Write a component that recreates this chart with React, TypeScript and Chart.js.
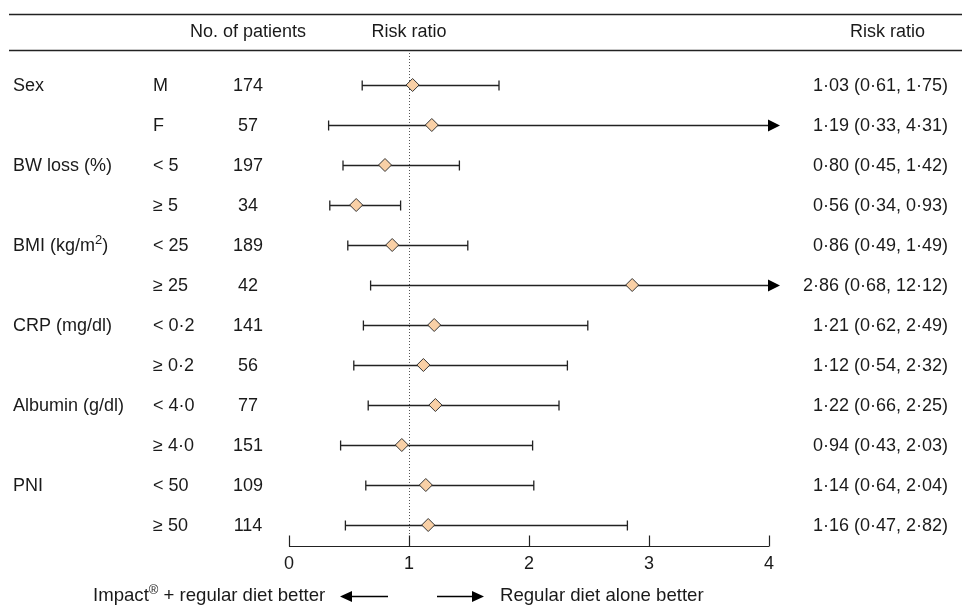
import React, { useEffect, useRef } from 'react';
import { Chart, registerables } from 'chart.js';

Chart.register(...registerables);

// ---------- data ----------
const categories = ['Sex', '', 'BW loss (%)', '', 'BMI (kg/m²)', '', 'CRP (mg/dl)', '', 'Albumin (g/dl)', '', 'PNI', ''];
const subgroups = ['M', 'F', '< 5', '≥ 5', '< 25', '≥ 25', '< 0·2', '≥ 0·2', '< 4·0', '≥ 4·0', '< 50', '≥ 50'];
const patients = [174, 57, 197, 34, 189, 42, 141, 56, 77, 151, 109, 114];
const riskRatio = [1.03, 1.19, 0.8, 0.56, 0.86, 2.86, 1.21, 1.12, 1.22, 0.94, 1.14, 1.16];
const lowerCI = [0.61, 0.33, 0.45, 0.34, 0.49, 0.68, 0.62, 0.54, 0.66, 0.43, 0.64, 0.47];
const upperCI = [1.75, 4.31, 1.42, 0.93, 1.49, 12.12, 2.49, 2.32, 2.25, 2.03, 2.04, 2.82];
const xTicks = [0, 1, 2, 3, 4];
const headerPatients = 'No. of patients';
const headerRisk = 'Risk ratio';
const legendLeft = 'Impact® + regular diet better';
const legendRight = 'Regular diet alone better';
const referenceValue = 1;

const FONT = '"Liberation Sans", Arial, Helvetica, sans-serif';
const FS = 18;
const TEXT = '#1a1a1a';
const LINE = '#222222';
const DIAMOND = '#F9D0A6';

const fmt = (v: number) => v.toFixed(2).replace('.', '·');

function drawRich(
  ctx: CanvasRenderingContext2D,
  text: string,
  x: number,
  y: number,
  align: 'left' | 'right' | 'center',
  fs: number = FS
) {
  // draws text with ² and ® as superscripts
  const parts: { t: string; sup: boolean }[] = [];
  let buf = '';
  for (const ch of text) {
    if (ch === '²' || ch === '®') {
      if (buf) parts.push({ t: buf, sup: false });
      buf = '';
      parts.push({ t: ch === '²' ? '2' : '®', sup: true });
    } else buf += ch;
  }
  if (buf) parts.push({ t: buf, sup: false });
  const normal = `${fs}px ${FONT}`;
  const small = `${Math.round(fs * 0.72)}px ${FONT}`;
  let total = 0;
  const widths = parts.map((p) => {
    ctx.font = p.sup ? small : normal;
    const w = ctx.measureText(p.t).width;
    total += w;
    return w;
  });
  let cx = align === 'left' ? x : align === 'right' ? x - total : x - total / 2;
  ctx.textAlign = 'left';
  ctx.textBaseline = 'middle';
  parts.forEach((p, i) => {
    ctx.font = p.sup ? small : normal;
    ctx.fillText(p.t, cx, p.sup ? y - 6 : y);
    cx += widths[i];
  });
}

const forestPlugin = {
  id: 'forest',
  beforeDatasetsDraw(chart: any) {
    const ctx: CanvasRenderingContext2D = chart.ctx;
    const xs = chart.scales.x;
    const ys = chart.scales.y;
    const area = chart.chartArea;
    ctx.save();
    // dotted reference line
    const rx = Math.round(xs.getPixelForValue(referenceValue)) + 0.5;
    ctx.strokeStyle = '#555';
    ctx.lineWidth = 1;
    ctx.setLineDash([1, 2]);
    ctx.beginPath();
    ctx.moveTo(rx, area.top);
    ctx.lineTo(rx, area.bottom);
    ctx.stroke();
    ctx.setLineDash([]);

    // CI whiskers
    ctx.strokeStyle = LINE;
    ctx.fillStyle = '#000';
    ctx.lineWidth = 1.3;
    const xmax = xs.max;
    riskRatio.forEach((_, i) => {
      const y = Math.round(ys.getPixelForValue(i)) + 0.5;
      const x0 = xs.getPixelForValue(lowerCI[i]);
      const clipped = upperCI[i] > xmax;
      const x1 = xs.getPixelForValue(Math.min(upperCI[i], xmax));
      ctx.beginPath();
      ctx.moveTo(x0, y);
      ctx.lineTo(x1, y);
      ctx.moveTo(x0, y - 5);
      ctx.lineTo(x0, y + 5);
      if (!clipped) {
        ctx.moveTo(x1, y - 5);
        ctx.lineTo(x1, y + 5);
      }
      ctx.stroke();
      if (clipped) {
        ctx.beginPath();
        ctx.moveTo(x1 - 1, y - 6);
        ctx.lineTo(x1 + 11, y);
        ctx.lineTo(x1 - 1, y + 6);
        ctx.closePath();
        ctx.fill();
      }
    });
    ctx.restore();
  },
  afterDraw(chart: any) {
    const ctx: CanvasRenderingContext2D = chart.ctx;
    const xs = chart.scales.x;
    const ys = chart.scales.y;
    const area = chart.chartArea;
    const W = chart.width;
    ctx.save();
    // header rules
    ctx.strokeStyle = LINE;
    ctx.lineWidth = 1.3;
    ctx.beginPath();
    ctx.moveTo(9, 14.5);
    ctx.lineTo(W, 14.5);
    ctx.moveTo(9, area.top + 0.5);
    ctx.lineTo(W, area.top + 0.5);
    ctx.stroke();

    ctx.fillStyle = TEXT;
    const headerY = 32;
    drawRich(ctx, headerPatients, 248, headerY, 'center');
    drawRich(ctx, headerRisk, xs.getPixelForValue(referenceValue), headerY, 'center');
    drawRich(ctx, headerRisk, 925, headerY, 'right');

    // rows
    riskRatio.forEach((rr, i) => {
      const y = ys.getPixelForValue(i) + 1;
      if (categories[i]) drawRich(ctx, categories[i], 13, y, 'left');
      drawRich(ctx, subgroups[i], 153, y, 'left');
      drawRich(ctx, String(patients[i]), 248, y, 'center');
      drawRich(ctx, `${fmt(rr)} (${fmt(lowerCI[i])}, ${fmt(upperCI[i])})`, 948, y, 'right');
    });

    // axis bracket
    const ay = Math.round(area.bottom) + 0.5;
    ctx.strokeStyle = LINE;
    ctx.lineWidth = 1.2;
    ctx.beginPath();
    ctx.moveTo(xs.getPixelForValue(xTicks[0]), ay);
    ctx.lineTo(xs.getPixelForValue(xTicks[xTicks.length - 1]), ay);
    xTicks.forEach((t) => {
      const tx = Math.round(xs.getPixelForValue(t)) + 0.5;
      ctx.moveTo(tx, ay);
      ctx.lineTo(tx, ay - 11);
    });
    ctx.stroke();
    xTicks.forEach((t) => {
      drawRich(ctx, String(t), xs.getPixelForValue(t), ay + 18, 'center');
    });

    // legend arrows
    const ly = 596;
    drawRich(ctx, legendLeft, 93, ly, 'left', 18.6);
    drawRich(ctx, legendRight, 500, ly, 'left', 18.6);
    ctx.fillStyle = '#000';
    ctx.strokeStyle = '#000';
    ctx.lineWidth = 1.5;
    const lyy = Math.round(ly) + 0.5;
    // left arrow
    ctx.beginPath();
    ctx.moveTo(350, lyy);
    ctx.lineTo(388, lyy);
    ctx.stroke();
    ctx.beginPath();
    ctx.moveTo(340, lyy);
    ctx.lineTo(352, lyy - 5.5);
    ctx.lineTo(352, lyy + 5.5);
    ctx.closePath();
    ctx.fill();
    // right arrow
    ctx.beginPath();
    ctx.moveTo(437, lyy);
    ctx.lineTo(474, lyy);
    ctx.stroke();
    ctx.beginPath();
    ctx.moveTo(484, lyy);
    ctx.lineTo(472, lyy - 5.5);
    ctx.lineTo(472, lyy + 5.5);
    ctx.closePath();
    ctx.fill();
    ctx.restore();
  },
};

export default function App() {
  const ref = useRef<HTMLCanvasElement | null>(null);
  useEffect(() => {
    if (!ref.current) return;
    const chart = new Chart(ref.current, {
      type: 'scatter',
      data: {
        datasets: [
          {
            label: 'Risk ratio',
            data: riskRatio.map((v, i) => ({ x: v, y: i })),
            pointStyle: 'rectRot',
            pointRadius: 6.5,
            pointHoverRadius: 6.5,
            backgroundColor: DIAMOND,
            borderColor: '#333',
            borderWidth: 1,
            clip: false,
          } as any,
        ],
      },
      options: {
        animation: false,
        responsive: false,
        devicePixelRatio: 1,
        events: [],
        layout: { padding: { left: 289, right: 193, top: 50, bottom: 64 } },
        plugins: { legend: { display: false }, tooltip: { enabled: false }, title: { display: false } },
        scales: {
          x: { type: 'linear', min: 0, max: 4, display: false },
          y: { type: 'linear', min: -0.875, max: 11.525, reverse: true, display: false },
        },
      },
      plugins: [forestPlugin],
    });
    return () => chart.destroy();
  }, []);
  return (
    <div style={{ position: 'fixed', left: 0, top: 0, width: 962, height: 610, background: '#fff' }}>
      <canvas ref={ref} width={962} height={610} style={{ width: 962, height: 610, display: 'block' }} />
    </div>
  );
}
